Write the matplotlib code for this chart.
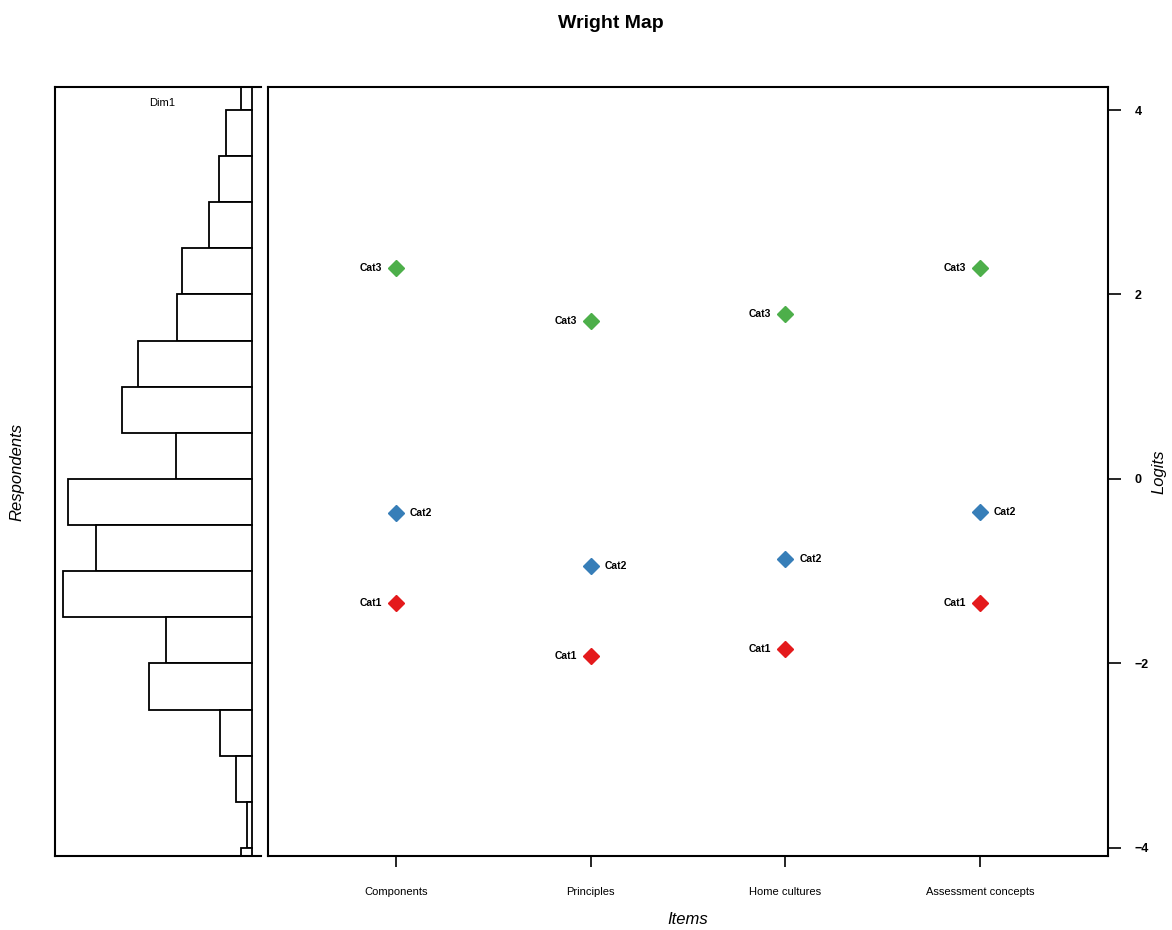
import matplotlib
matplotlib.use("Agg")
import matplotlib.pyplot as plt
import numpy as np

plt.rcParams['font.family'] = ['Liberation Sans', 'DejaVu Sans']

# respondents histogram (bins of 0.5 logit, top to bottom)
bin_lo = [4.0, 3.5, 3.0, 2.5, 2.0, 1.5, 1.0, 0.5, 0.0,
          -0.5, -1.0, -1.5, -2.0, -2.5, -3.0, -3.5, -4.0, -4.5]
counts = [2, 5, 6.2, 8.1, 13.2, 14.2, 21.5, 24.5, 14.3,
          34.7, 29.4, 35.7, 16.2, 19.4, 6, 3, 1, 2]

# item thresholds
items = ["Components", "Principles", "Home cultures", "Assessment concepts"]
cat1 = [-1.34, -1.92, -1.84, -1.34]
cat2 = [-0.37, -0.94, -0.87, -0.36]
cat3 = [2.29, 1.71, 1.79, 2.29]

ylim = (-4.087, 4.25)

fig = plt.figure(figsize=(11.72, 9.3), dpi=100)
axh = fig.add_axes([0.0469, 0.0796, 0.1758, 0.8269])
ax = fig.add_axes([0.2287, 0.0796, 0.7167, 0.8269])

# histogram panel
axh.barh(np.array(bin_lo) + 0.25, counts, height=0.5, color="white",
         edgecolor="black", linewidth=1.3)
xmax = max(counts) * 197 / 189
axh.set_xlim(xmax, -max(counts) * 9 / 189)
axh.set_ylim(*ylim)
axh.set_xticks([])
axh.set_yticks([])
for s in ["left", "top", "bottom"]:
    axh.spines[s].set_linewidth(1.5)
axh.spines["right"].set_visible(False)
axh.text(0.52, 0.985, "Dim1", transform=axh.transAxes, ha="center", va="top", fontsize=8)
axh.set_ylabel("Respondents", fontsize=12, style="italic", labelpad=22)

# main panel
x = np.arange(1, len(items) + 1)
ax.plot(x, cat1, "D", color="#E41A1C", markersize=8, linestyle="none")
ax.plot(x, cat2, "D", color="#377EB8", markersize=8, linestyle="none")
ax.plot(x, cat3, "D", color="#4DAF4A", markersize=8, linestyle="none")
for xi, a, b, c in zip(x, cat1, cat2, cat3):
    ax.annotate("Cat1", (xi, a), xytext=(-10, 0), textcoords="offset points",
                ha="right", va="center", fontsize=7.5, fontweight="bold")
    ax.annotate("Cat2", (xi, b), xytext=(10, 0), textcoords="offset points",
                ha="left", va="center", fontsize=7.5, fontweight="bold")
    ax.annotate("Cat3", (xi, c), xytext=(-10, 0), textcoords="offset points",
                ha="right", va="center", fontsize=7.5, fontweight="bold")

ax.set_xlim(0.343, 4.657)
ax.set_ylim(*ylim)
ax.set_xticks(x)
ax.set_xticklabels(items, fontsize=8)
ax.yaxis.tick_right()
ax.yaxis.set_label_position("right")
ax.set_yticks([-4, -2, 0, 2, 4])
ax.set_yticklabels(["\u22124", "\u22122", "0", "2", "4"], fontsize=9, fontweight="bold")
ax.tick_params(axis="y", length=9, width=1.2, pad=10)
ax.tick_params(axis="x", length=8, width=1.2, pad=14)
for s in ax.spines.values():
    s.set_linewidth(1.5)
ax.set_xlabel("Items", fontsize=12, style="italic", labelpad=11)
ax.set_ylabel("Logits", fontsize=12, style="italic", labelpad=2)

fig.text(0.521, 0.975, "Wright Map", ha="center", va="center", fontsize=14, fontweight="bold")

fig.savefig("out.png", dpi=100)
